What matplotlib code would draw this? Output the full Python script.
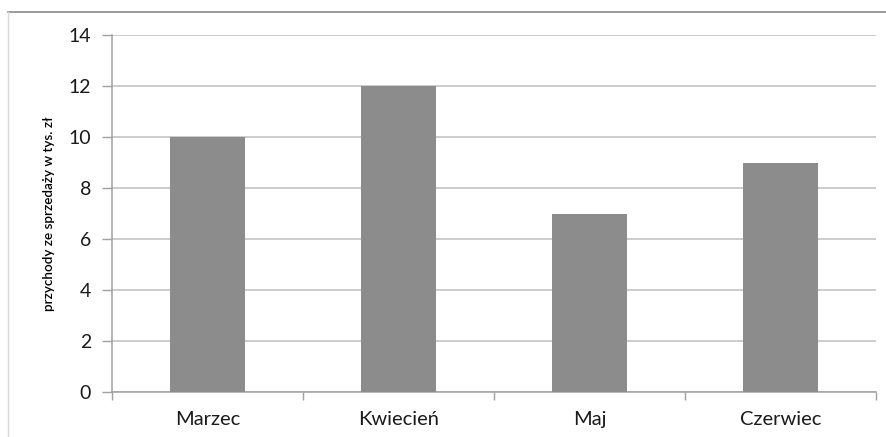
import matplotlib
matplotlib.use("Agg")
import matplotlib.pyplot as plt
from matplotlib.lines import Line2D
import numpy as np

categories = ["Marzec", "Kwiecień", "Maj", "Czerwiec"]
values = [10, 12, 7, 9]
yticks = [0, 2, 4, 6, 8, 10, 12, 14]
ylabel = "przychody ze sprzedaży w tys. zł"

plt.rcParams['font.family'] = ['Lato', 'DejaVu Sans']

W, H = 886, 437
fig = plt.figure(figsize=(W / 100, H / 100), dpi=100)
fig.patch.set_facecolor("white")

l, r, t, b = 112, 876, 35, 392
ax = fig.add_axes([l / W, 1 - b / H, (r - l) / W, (b - t) / H])

x = np.arange(len(categories))
ax.bar(x, values, width=0.39, color="#8c8c8c", zorder=3)
ax.set_xlim(-0.5, len(categories) - 0.5)
ax.set_ylim(0, 14)
ax.set_yticks(yticks)
ax.set_yticklabels([str(v) for v in yticks], fontsize=14, color="#1a1a1a")
ax.yaxis.grid(True, color="#bfbfbf", linewidth=1.1, zorder=0)
ax.set_axisbelow(True)

ax.set_xticks(x)
ax.set_xticklabels(categories, fontsize=14.5, color="#1a1a1a")
ax.tick_params(axis="x", length=0, pad=14)
ax.set_xticks(np.arange(len(categories) + 1) - 0.5, minor=True)
ax.tick_params(axis="x", which="minor", length=6, color="#a0a0a0", width=1)
ax.tick_params(axis="y", length=7, color="#a0a0a0", width=1, pad=8)

for s in ["top", "right"]:
    ax.spines[s].set_visible(False)
for s in ["left", "bottom"]:
    ax.spines[s].set_color("#a0a0a0")
    ax.spines[s].set_linewidth(1.1)

ax.set_ylabel(ylabel, fontsize=9.7, color="#000000", labelpad=10, fontweight="semibold")

# figure border
fig.add_artist(Line2D([8 / W, 1], [1 - 12 / H, 1 - 12 / H], color="#8a8a8a", linewidth=1.2, transform=fig.transFigure))
fig.add_artist(Line2D([8 / W, 8 / W], [1 - 12 / H, 0], color="#d8d8d8", linewidth=1.0, transform=fig.transFigure))

fig.savefig("out.png", dpi=100, facecolor="white")
